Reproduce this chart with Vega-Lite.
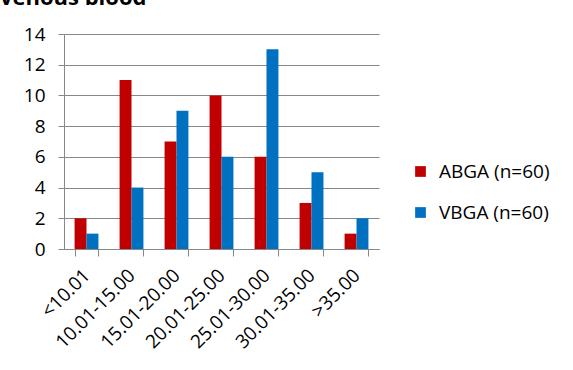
{
  "$schema": "https://vega.github.io/schema/vega-lite/v6.json",
  "autosize": "none",
  "width": 315,
  "height": 215,
  "padding": {"left": 64, "top": 34, "right": 194, "bottom": 121},
  "background": "white",
  "title": {
    "text": "venous blood",
    "anchor": "start",
    "frame": "group",
    "font": "Open Sans",
    "fontSize": 22,
    "fontWeight": "bold",
    "color": "#000000",
    "baseline": "alphabetic",
    "dx": -64,
    "dy": 2,
    "offset": 0
  },
  "data": {
    "values": [
      {"range": "<10.01", "group": "ABGA (n=60)", "count": 2},
      {"range": "<10.01", "group": "VBGA (n=60)", "count": 1},
      {"range": "10.01-15.00", "group": "ABGA (n=60)", "count": 11},
      {"range": "10.01-15.00", "group": "VBGA (n=60)", "count": 4},
      {"range": "15.01-20.00", "group": "ABGA (n=60)", "count": 7},
      {"range": "15.01-20.00", "group": "VBGA (n=60)", "count": 9},
      {"range": "20.01-25.00", "group": "ABGA (n=60)", "count": 10},
      {"range": "20.01-25.00", "group": "VBGA (n=60)", "count": 6},
      {"range": "25.01-30.00", "group": "ABGA (n=60)", "count": 6},
      {"range": "25.01-30.00", "group": "VBGA (n=60)", "count": 13},
      {"range": "30.01-35.00", "group": "ABGA (n=60)", "count": 3},
      {"range": "30.01-35.00", "group": "VBGA (n=60)", "count": 5},
      {"range": ">35.00", "group": "ABGA (n=60)", "count": 1},
      {"range": ">35.00", "group": "VBGA (n=60)", "count": 2}
    ]
  },
  "mark": {"type": "bar"},
  "encoding": {
    "x": {
      "field": "range",
      "type": "nominal",
      "sort": null,
      "title": null,
      "scale": {"paddingInner": 0.47, "paddingOuter": 0.235},
      "axis": {
        "labelAngle": -45,
        "labelAlign": "right",
        "labelBaseline": "middle",
        "labelFont": "Open Sans",
        "labelFontSize": 19,
        "labelColor": "#000000",
        "labelPadding": 16,
        "tickBand": "extent",
        "tickSize": 7,
        "tickColor": "#878787",
        "domainColor": "#878787",
        "grid": false
      }
    },
    "xOffset": {"field": "group", "type": "nominal", "scale": {"paddingInner": 0, "paddingOuter": 0}},
    "y": {
      "field": "count",
      "type": "quantitative",
      "title": null,
      "scale": {"domain": [0, 14], "nice": false},
      "axis": {
        "values": [0, 2, 4, 6, 8, 10, 12, 14],
        "labelFont": "Open Sans",
        "labelFontSize": 19,
        "labelColor": "#000000",
        "labelPadding": 13,
        "tickSize": 6,
        "tickColor": "#878787",
        "domainColor": "#878787",
        "grid": true,
        "gridColor": "#878787",
        "gridWidth": 1
      }
    },
    "color": {
      "field": "group",
      "type": "nominal",
      "scale": {"range": ["#C00000", "#0070C0"]},
      "legend": {
        "title": null,
        "orient": "none",
        "legendX": 347,
        "legendY": 128,
        "symbolType": "square",
        "symbolSize": 115,
        "symbolStrokeWidth": 0,
        "labelFont": "Open Sans",
        "labelFontSize": 19,
        "labelColor": "#000000",
        "labelOffset": 9,
        "rowPadding": 21
      }
    }
  },
  "config": {
    "view": {"stroke": null},
    "axis": {"domainWidth": 1, "tickWidth": 1}
  }
}
